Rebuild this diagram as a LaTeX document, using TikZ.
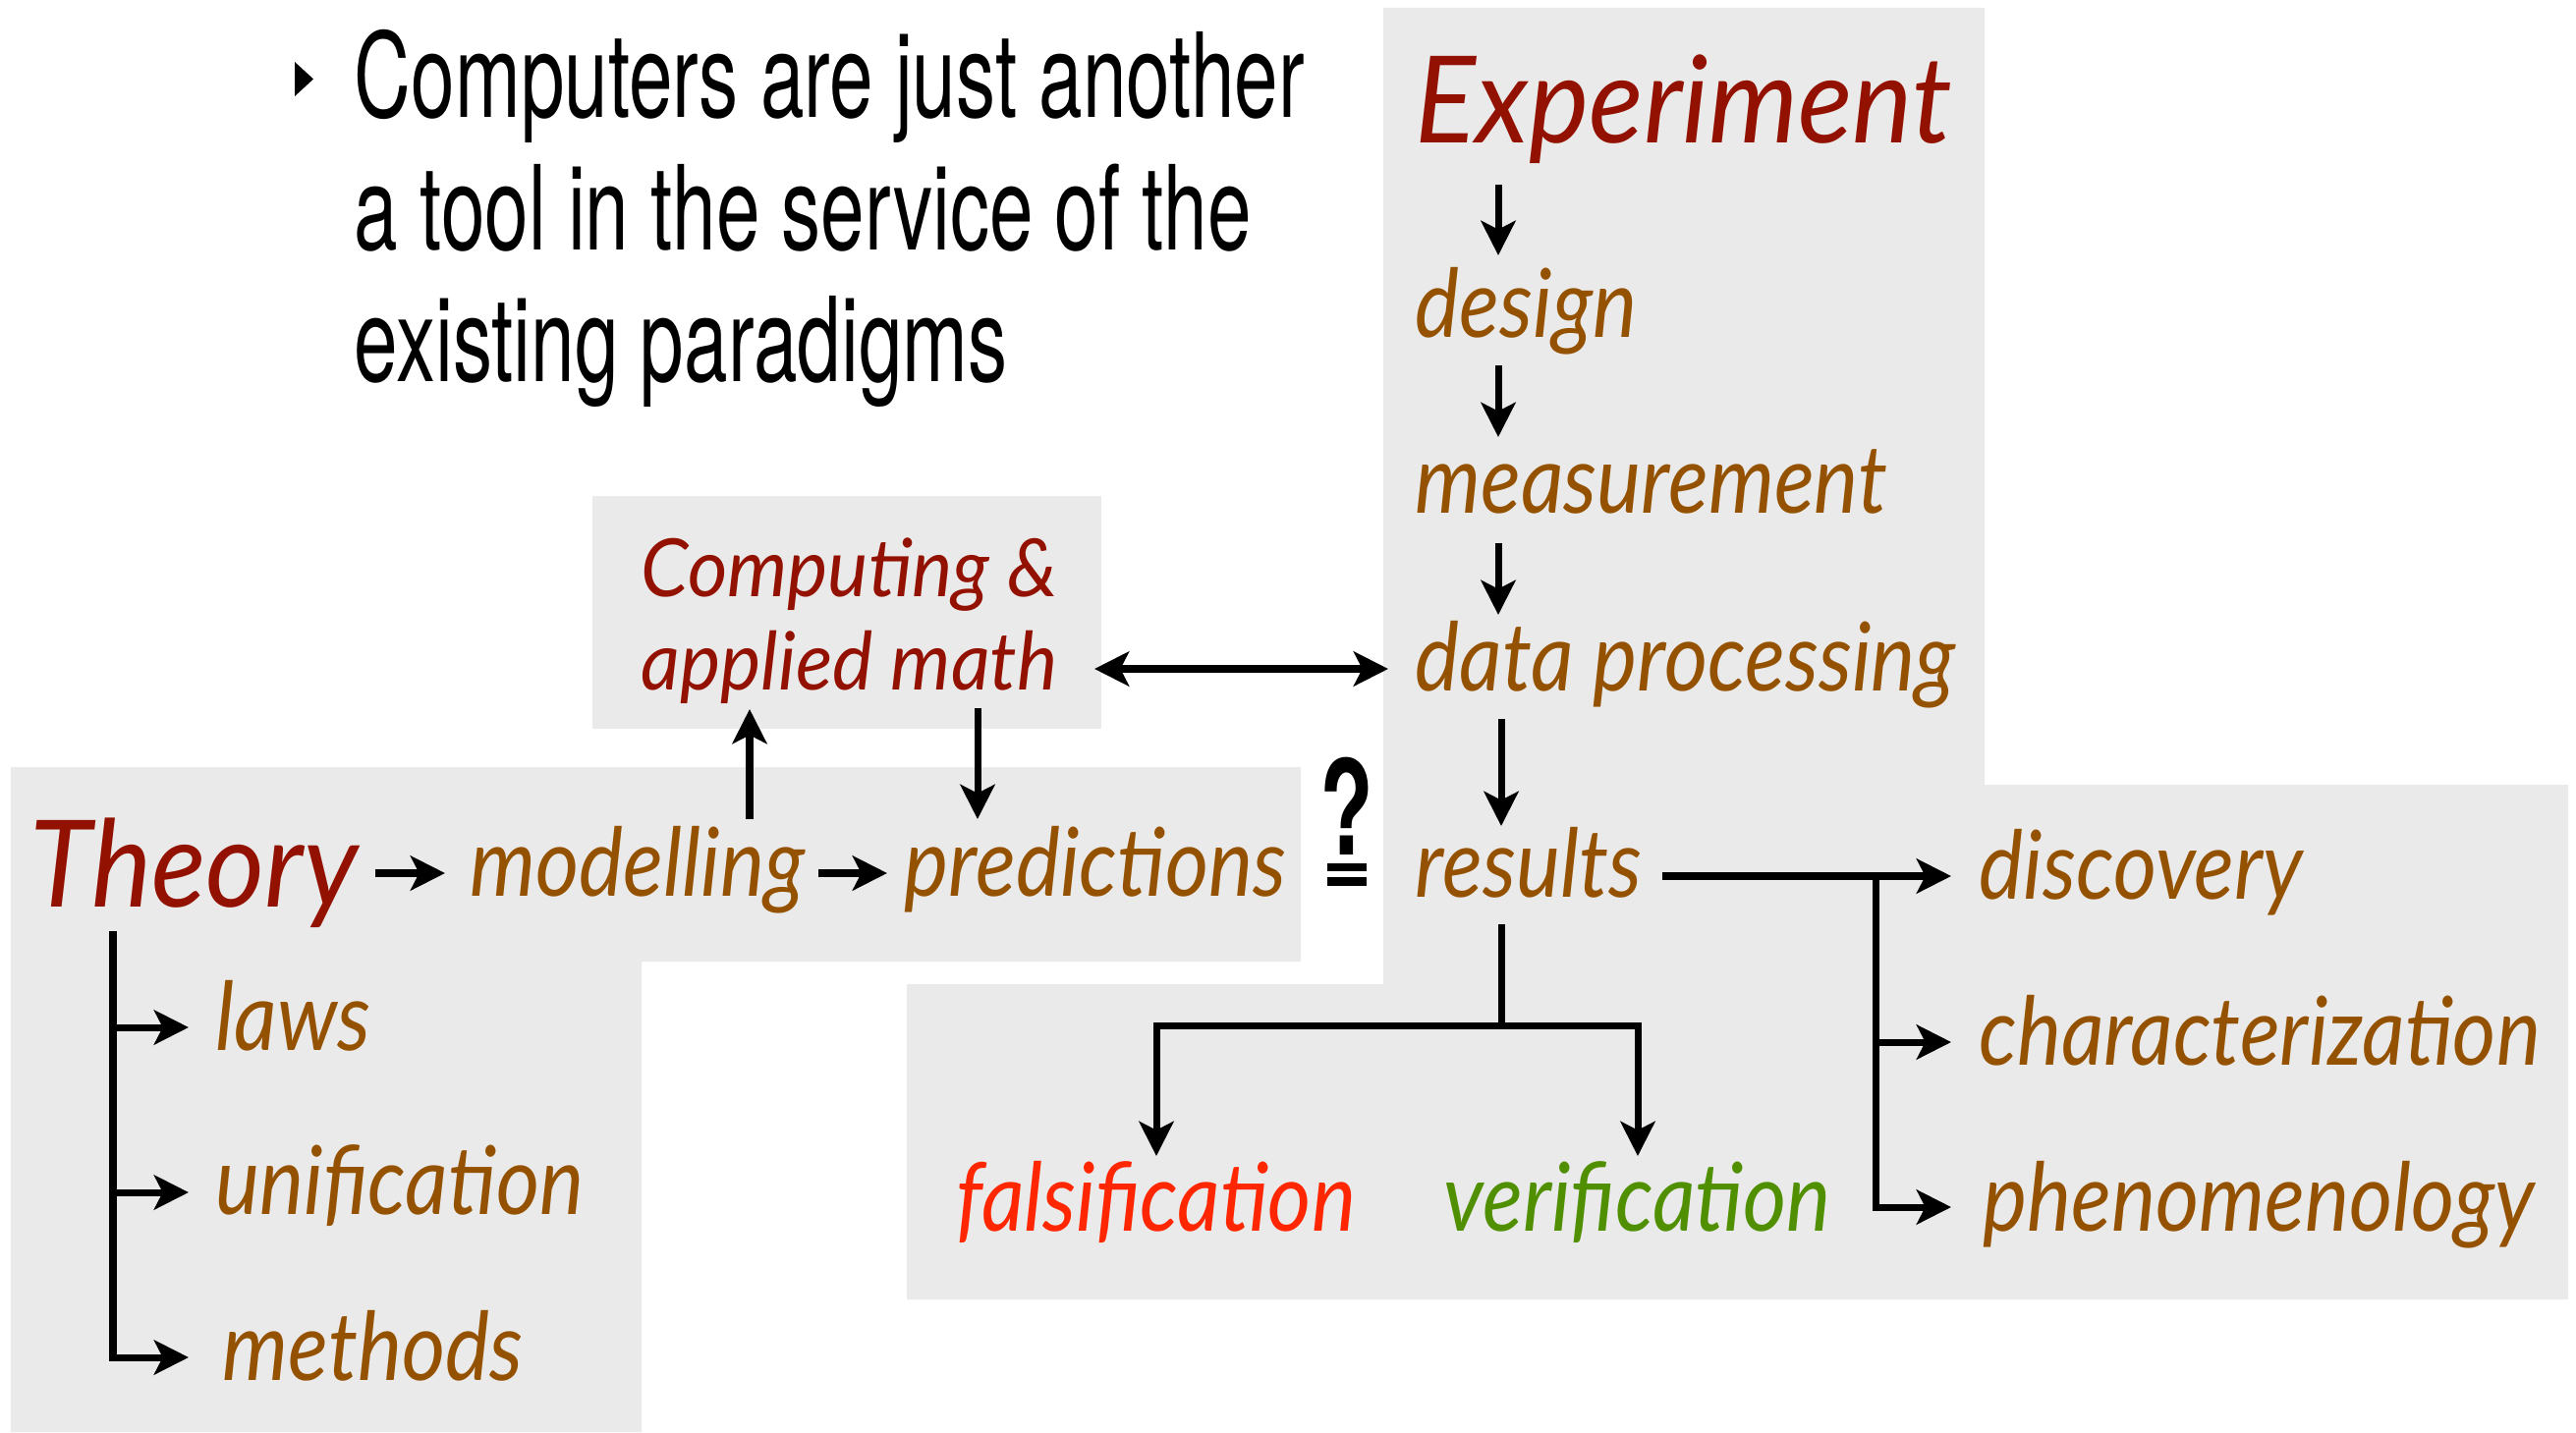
\documentclass[tikz,border=0pt]{standalone}
\usepackage{fontspec}
\setmainfont{Lato}
\newfontfamily\condfont[FakeStretch=0.67]{TeX Gyre Heros}
\newfontfamily\labelfont[FakeStretch=0.88]{Lato}
\newfontfamily\headfont[FakeStretch=0.94]{Lato}
\newfontfamily\subfont[FakeStretch=0.95]{Lato}
\usetikzlibrary{arrows.meta}

\definecolor{panelgray}{HTML}{EAEAEA}
\definecolor{headred}{HTML}{931100}
\definecolor{labelbrown}{HTML}{945200}
\definecolor{falsered}{HTML}{FF2600}
\definecolor{verigreen}{HTML}{4F8F00}

\tikzset{
  lbl/.style={anchor=base west, inner sep=0pt, text=labelbrown,
    font=\labelfont\fontsize{27.5}{27.5}\selectfont\itshape},
  head/.style={lbl, text=headred, font=\headfont\fontsize{35}{35}\selectfont\itshape},
  sub/.style={lbl, text=headred, font=\subfont\fontsize{23.3}{23.3}\selectfont\itshape},
  bullet/.style={anchor=base west, inner sep=0pt, font=\condfont\fontsize{34}{34}\selectfont},
  arr/.style={line width=2pt, -{Stealth[length=10pt,width=10pt,inset=2.5pt]}},
  dblarr/.style={line width=2pt, {Stealth[length=10pt,width=10pt,inset=2.5pt]}-{Stealth[length=10pt,width=10pt,inset=2.5pt]}},
}

\begin{document}
\begin{tikzpicture}
  \useasboundingbox (0,0) rectangle (26.22,-14.58);

  %% grey panels
  \fill[panelgray] (14.08,-0.08) -- (20.20,-0.08) -- (20.20,-7.99) -- (26.14,-7.99)
    -- (26.14,-13.23) -- (9.23,-13.23) -- (9.23,-10.02) -- (14.08,-10.02) -- cycle;
  \fill[panelgray] (0.11,-7.81) -- (13.24,-7.81) -- (13.24,-9.79) -- (6.53,-9.79)
    -- (6.53,-14.58) -- (0.11,-14.58) -- cycle;
  \fill[panelgray] (6.03,-5.05) rectangle (11.21,-7.42);

  %% bullet point
  \fill (3.00,-0.63) -- (3.19,-0.805) -- (3.00,-0.98) -- cycle;
  \node[bullet] (line1) at (3.60,-1.20) {Computers are just another};
  \node[bullet] (line2) at (3.60,-2.54) {a tool in the service of the};
  \node[bullet] (line3) at (3.60,-3.88) {existing paradigms};

  %% experiment column
  \node[head] (exp) at (14.40,-1.46) {Experiment};
  \node[lbl] (design) at (14.40,-3.43) {design};
  \node[lbl] (meas) at (14.40,-5.22) {measurement};
  \node[lbl] (dproc) at (14.40,-7.03) {data processing};
  \node[lbl] (res) at (14.40,-9.13) {results};

  \coordinate (e0) at (15.25,-1.88);  \coordinate (e1) at (15.25,-2.60);
  \coordinate (e2) at (15.25,-3.72);  \coordinate (e3) at (15.25,-4.45);
  \coordinate (e4) at (15.25,-5.53);  \coordinate (e5) at (15.25,-6.26);
  \coordinate (e6) at (15.28,-7.32);  \coordinate (e7) at (15.28,-8.41);
  \draw[arr] (e0) -- (e1);
  \draw[arr] (e2) -- (e3);
  \draw[arr] (e4) -- (e5);
  \draw[arr] (e6) -- (e7);

  %% computing box
  \node[sub] (comp) at (6.52,-6.07) {Computing \&};
  \node[sub] (math) at (6.52,-7.02) {applied math};
  \coordinate (c0) at (11.14,-6.81);  \coordinate (c1) at (14.13,-6.81);
  \draw[dblarr] (c0) -- (c1);

  %% theory row
  \node[head] (theory) at (0.30,-9.23) {Theory};
  \node[lbl] (model) at (4.78,-9.12) {modelling};
  \node[lbl] (pred) at (9.20,-9.12) {predictions};

  \coordinate (t0) at (3.82,-8.89);  \coordinate (t1) at (4.53,-8.89);
  \coordinate (t2) at (8.33,-8.89);  \coordinate (t3) at (9.03,-8.89);
  \draw[arr] (t0) -- (t1);
  \draw[arr] (t2) -- (t3);
  \coordinate (m0) at (7.63,-8.34);  \coordinate (m1) at (7.63,-7.22);
  \coordinate (p0) at (9.95,-7.21);  \coordinate (p1) at (9.95,-8.34);
  \draw[arr] (m0) -- (m1);
  \draw[arr] (p0) -- (p1);

  %% predictions vs results
  \node[anchor=base, inner sep=0pt, font=\condfont\bfseries\fontsize{38}{38}\selectfont]
    (qm) at (13.71,-8.70) {?};
  \fill (13.51,-8.79) rectangle (13.91,-8.87);
  \fill (13.51,-8.93) rectangle (13.91,-9.02);

  %% theory branches
  \node[lbl] (laws) at (2.19,-10.69) {laws};
  \node[lbl] (unif) at (2.19,-12.36) {unification};
  \node[lbl] (meth) at (2.26,-14.05) {methods};
  \coordinate (tb) at (1.15,-9.48);
  \draw[arr] (tb) |- (1.92,-10.46) coordinate (tb1);
  \draw[arr] (tb) |- (1.92,-12.14) coordinate (tb2);
  \draw[arr] (tb) |- (1.92,-13.82) coordinate (tb3);

  %% results branches
  \node[lbl, text=falsered] (fals) at (9.73,-12.53) {falsification};
  \node[lbl, text=verigreen] (veri) at (14.69,-12.53) {verification};
  \node[lbl] (disc) at (20.14,-9.15) {discovery};
  \node[lbl] (char) at (20.14,-10.84) {characterization};
  \node[lbl] (phen) at (20.18,-12.53) {phenomenology};

  \coordinate (r0) at (15.28,-9.41);  \coordinate (rj) at (15.28,-10.44);
  \draw[arr] (r0) -- (rj) -| (11.77,-11.77) coordinate (f0);
  \draw[arr] (rj) -| (16.67,-11.77) coordinate (v0);

  \coordinate (d0) at (16.92,-8.92);  \coordinate (d1) at (19.86,-8.92);
  \coordinate (dj) at (19.09,-8.92);
  \draw[arr] (d0) -- (d1);
  \draw[arr] (dj) |- (19.86,-10.61) coordinate (ch0);
  \draw[arr] (dj) |- (19.86,-12.29) coordinate (ph0);
\end{tikzpicture}
\end{document}
